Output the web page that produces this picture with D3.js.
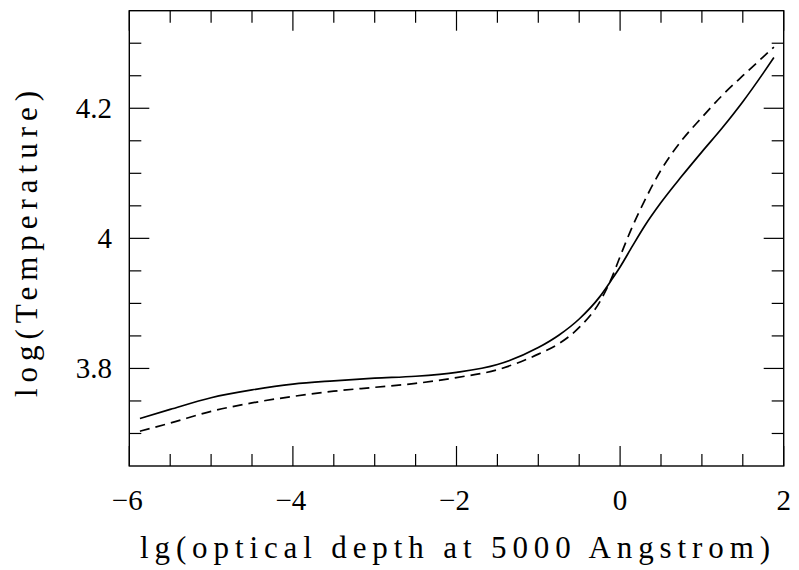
<!DOCTYPE html>
<html>
<head>
<meta charset="utf-8">
<script src="https://cdn.jsdelivr.net/npm/d3@7"></script>
<style>
  body { margin: 0; background: #fff; }
  text { font-family: "Liberation Serif", serif; fill: #000; }
</style>
</head>
<body>
<div id="chart"></div>
<script>
let
    svgWidth = 799,
    svgHeight = 570

// plot frame in pixels
let frame = { left: 129.3, right: 783.7, top: 10.7, bottom: 466 }

// data
let depth = [-5.87, -5.5, -5, -4.5, -4, -3.5, -3, -2.5, -2, -1.5, -1, -0.75, -0.5, -0.25, -0.1, 0, 0.15, 0.3, 0.5, 0.75, 1, 1.25, 1.5, 1.75, 1.88]
let tempSolid = [3.723, 3.737, 3.755, 3.767, 3.776, 3.781, 3.785, 3.788, 3.794, 3.806, 3.832, 3.851, 3.876, 3.910, 3.937, 3.956, 3.988, 4.019, 4.055, 4.095, 4.133, 4.170, 4.210, 4.254, 4.278]
let tempDashed = [3.7035, 3.716, 3.734, 3.747, 3.757, 3.765, 3.771, 3.777, 3.786, 3.798, 3.822, 3.838, 3.863, 3.902, 3.940, 3.972, 4.018, 4.058, 4.105, 4.150, 4.186, 4.220, 4.250, 4.279, 4.294]

let xMajorTicks = [-6, -4, -2, 0, 2]
let xMinorTicks = d3.range(-6, 2.01, 0.5)
let yMajorTicks = [3.8, 4.0, 4.2]
let yMinorTicks = d3.range(3.7, 4.31, 0.05)
let yTickLabels = ["3.8", "4", "4.2"]

let svg = d3.select("#chart")
    .append("svg")
    .attr("width", svgWidth)
    .attr("height", svgHeight)

let x = d3.scaleLinear().domain([-6, 2]).range([frame.left, frame.right])
let y = d3.scaleLinear().domain([3.65, 4.35]).range([frame.bottom, frame.top])

// inward ticks on all four sides
let tickGroup = svg.append("g").attr("stroke", "#000").attr("stroke-width", 1.2)
function isMajor(v, majors) { return majors.some(m => Math.abs(m - v) < 1e-6) }

xMinorTicks.forEach(v => {
    let len = isMajor(v, xMajorTicks) ? 20 : 12
    tickGroup.append("line").attr("x1", x(v)).attr("x2", x(v)).attr("y1", frame.bottom).attr("y2", frame.bottom - len)
    tickGroup.append("line").attr("x1", x(v)).attr("x2", x(v)).attr("y1", frame.top).attr("y2", frame.top + len)
})
yMinorTicks.forEach(v => {
    let len = isMajor(v, yMajorTicks) ? 20 : 12
    tickGroup.append("line").attr("y1", y(v)).attr("y2", y(v)).attr("x1", frame.left).attr("x2", frame.left + len)
    tickGroup.append("line").attr("y1", y(v)).attr("y2", y(v)).attr("x1", frame.right).attr("x2", frame.right - len)
})

// frame
svg.append("rect")
    .attr("x", frame.left)
    .attr("y", frame.top)
    .attr("width", frame.right - frame.left)
    .attr("height", frame.bottom - frame.top)
    .attr("fill", "none")
    .attr("stroke", "#000")
    .attr("stroke-width", 1.4)

// tick labels
svg.append("g").selectAll("text")
    .data(xMajorTicks)
    .enter()
    .append("text")
    .attr("x", d => x(d) + (d < 0 ? -2 : 0))
    .attr("y", 510)
    .attr("text-anchor", "middle")
    .attr("font-size", 29)
    .text(d => d < 0 ? "\u2212" + Math.abs(d) : d)

svg.append("g").selectAll("text")
    .data(yMajorTicks)
    .enter()
    .append("text")
    .attr("x", 112)
    .attr("y", d => y(d) + 10)
    .attr("text-anchor", "end")
    .attr("font-size", 29)
    .text((d, i) => yTickLabels[i])

// axis titles
svg.append("text")
    .attr("x", 140)
    .attr("y", 558)
    .attr("font-size", 31)
    .attr("textLength", 630)
    .attr("lengthAdjust", "spacing")
    .text("lg(optical depth at 5000 Angstrom)")

svg.append("text")
    .attr("transform", "translate(37, 397) rotate(-90)")
    .attr("font-size", 31)
    .attr("textLength", 306)
    .attr("lengthAdjust", "spacing")
    .text("log(Temperature)")

// curves
let line = d3.line()
    .x((d, i) => x(depth[i]))
    .y(d => y(d))
    .curve(d3.curveMonotoneX)

svg.append("path")
    .datum(tempSolid)
    .attr("d", line)
    .attr("fill", "none")
    .attr("stroke", "#000")
    .attr("stroke-width", 1.7)

svg.append("path")
    .datum(tempDashed)
    .attr("d", line)
    .attr("fill", "none")
    .attr("stroke", "#000")
    .attr("stroke-width", 1.7)
    .attr("stroke-dasharray", "10,6")
</script>
</body>
</html>
